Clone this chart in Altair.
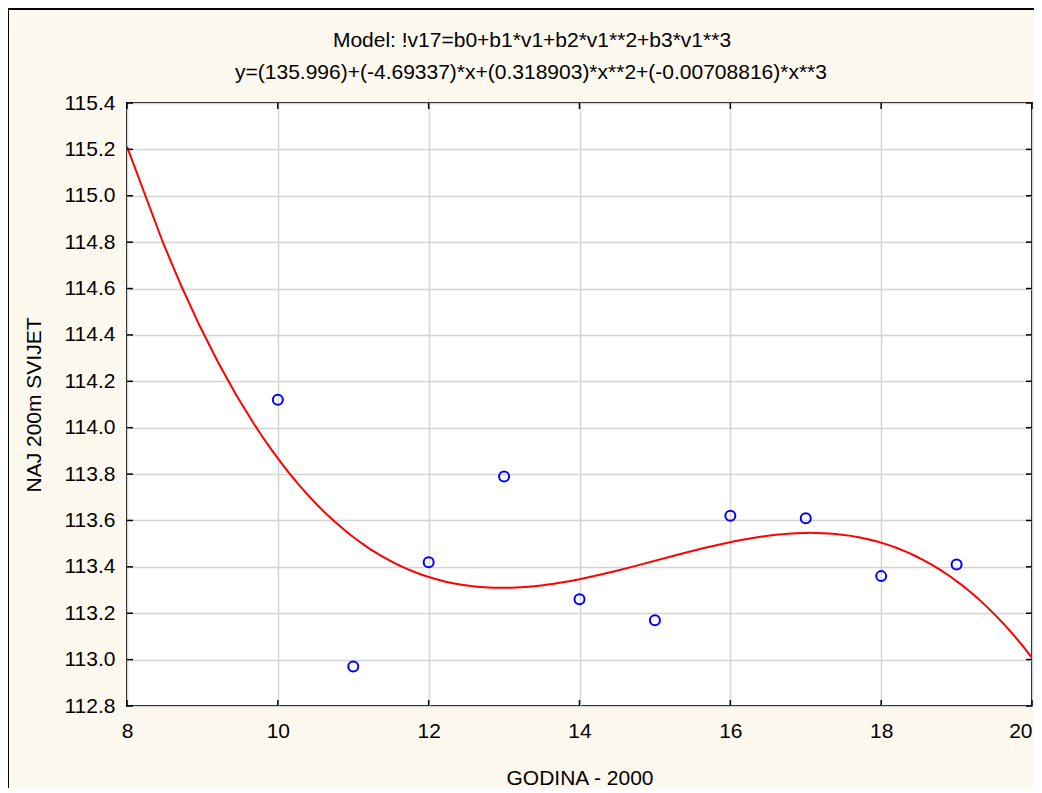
import altair as alt
import pandas as pd

years = [10, 11, 12, 13, 14, 15, 16, 17, 18, 19]
times = [114.12, 112.97, 113.42, 113.79, 113.26, 113.17, 113.62, 113.61, 113.36, 113.41]
x_ticks = [8, 10, 12, 14, 16, 18, 20]
y_ticks = [112.8, 113.0, 113.2, 113.4, 113.6, 113.8, 114.0, 114.2, 114.4, 114.6, 114.8, 115.0, 115.2, 115.4]
title_lines = [
    "Model: !v17=b0+b1*v1+b2*v1**2+b3*v1**3",
    "y=(135.996)+(-4.69337)*x+(0.318903)*x**2+(-0.00708816)*x**3",
]

W, H = 905, 603
FONT = "Liberation Sans"
FS = 21

df = pd.DataFrame({"x": years, "y": times})
xt = pd.DataFrame({"x": x_ticks})
yt = pd.DataFrame({"y": y_ticks})
frame_df = pd.DataFrame({"k": [0]})

xscale = alt.Scale(domain=[8, 20], nice=False, zero=False)
yscale = alt.Scale(domain=[112.8, 115.4], nice=False, zero=False)

xaxis = alt.Axis(values=x_ticks, title="GODINA - 2000", format="d", grid=True, ticks=False, tickSize=0,
                 labelPadding=14, titlePadding=26, domain=False, labelFlush=False, labelOverlap=False,
                 labelAlign={"expr": "datum.value == 20 ? 'right' : 'center'"})
yaxis = alt.Axis(values=y_ticks, title="NAJ 200m SVIJET", format=".1f", grid=True, ticks=False,
                 tickSize=0, labelPadding=12, titlePadding=20, domain=False, labelFlush=False,
                 labelOverlap=False)

points = alt.Chart(df).mark_point(shape="circle", filled=False, color="#0000FF", size=100,
                                  strokeWidth=2, opacity=1).encode(
    x=alt.X("x:Q", scale=xscale, axis=xaxis),
    y=alt.Y("y:Q", scale=yscale, axis=yaxis),
)

curve = alt.Chart(df).transform_regression(
    "x", "y", method="poly", order=3, extent=[8, 20]
).mark_line(color="#FF0000", strokeWidth=2, clip=True).encode(
    x=alt.X("x:Q", scale=xscale),
    y=alt.Y("y:Q", scale=yscale),
)

tick_style = dict(color="#000000", strokeWidth=1.5)
xtick_bottom = alt.Chart(xt).mark_rule(**tick_style).encode(
    x=alt.X("x:Q", scale=xscale), y=alt.value(H), y2=alt.value(H - 6))
xtick_top = alt.Chart(xt).mark_rule(**tick_style).encode(
    x=alt.X("x:Q", scale=xscale), y=alt.value(0), y2=alt.value(6))
ytick_left = alt.Chart(yt).mark_rule(**tick_style).encode(
    y=alt.Y("y:Q", scale=yscale), x=alt.value(0), x2=alt.value(6))
ytick_right = alt.Chart(yt).mark_rule(**tick_style).encode(
    y=alt.Y("y:Q", scale=yscale), x=alt.value(W), x2=alt.value(W - 6))

left_border = alt.Chart(frame_df).mark_rule(color="#000000", strokeWidth=2).encode(
    x=alt.value(-119), y=alt.value(-95), y2=alt.value(H + 90)
)
top_border = alt.Chart(frame_df).mark_rule(color="#000000", strokeWidth=2).encode(
    x=alt.value(-120), x2=alt.value(W + 10), y=alt.value(-94)
)

title1 = alt.Chart(frame_df).mark_text(
    text=title_lines[0], font=FONT, fontSize=FS, color="#000000", align="center", baseline="alphabetic"
).encode(x=alt.value(405), y=alt.value(-56))
title2 = alt.Chart(frame_df).mark_text(
    text=title_lines[1], font=FONT, fontSize=FS, color="#000000", align="center", baseline="alphabetic"
).encode(x=alt.value(404), y=alt.value(-24))

chart = alt.layer(
    curve, points, xtick_bottom, xtick_top, ytick_left, ytick_right,
    left_border, top_border, title1, title2
).properties(
    width=W,
    height=H,
    autosize=alt.AutoSizeParams(type="none"),
    padding={"left": 119, "top": 95, "right": 2, "bottom": 82},
    background="#FDF9EE",
).configure_view(
    fill="#FFFFFF", stroke="#000000", strokeWidth=2
).configure_axis(
    labelFont=FONT, titleFont=FONT, labelFontSize=FS, titleFontSize=FS,
    labelColor="#000000", titleColor="#000000", titleFontWeight="normal",
    gridColor="#D4D4D4", gridWidth=1.5,
)

chart.save("out.html", embed_options={"renderer": "svg", "actions": False})
